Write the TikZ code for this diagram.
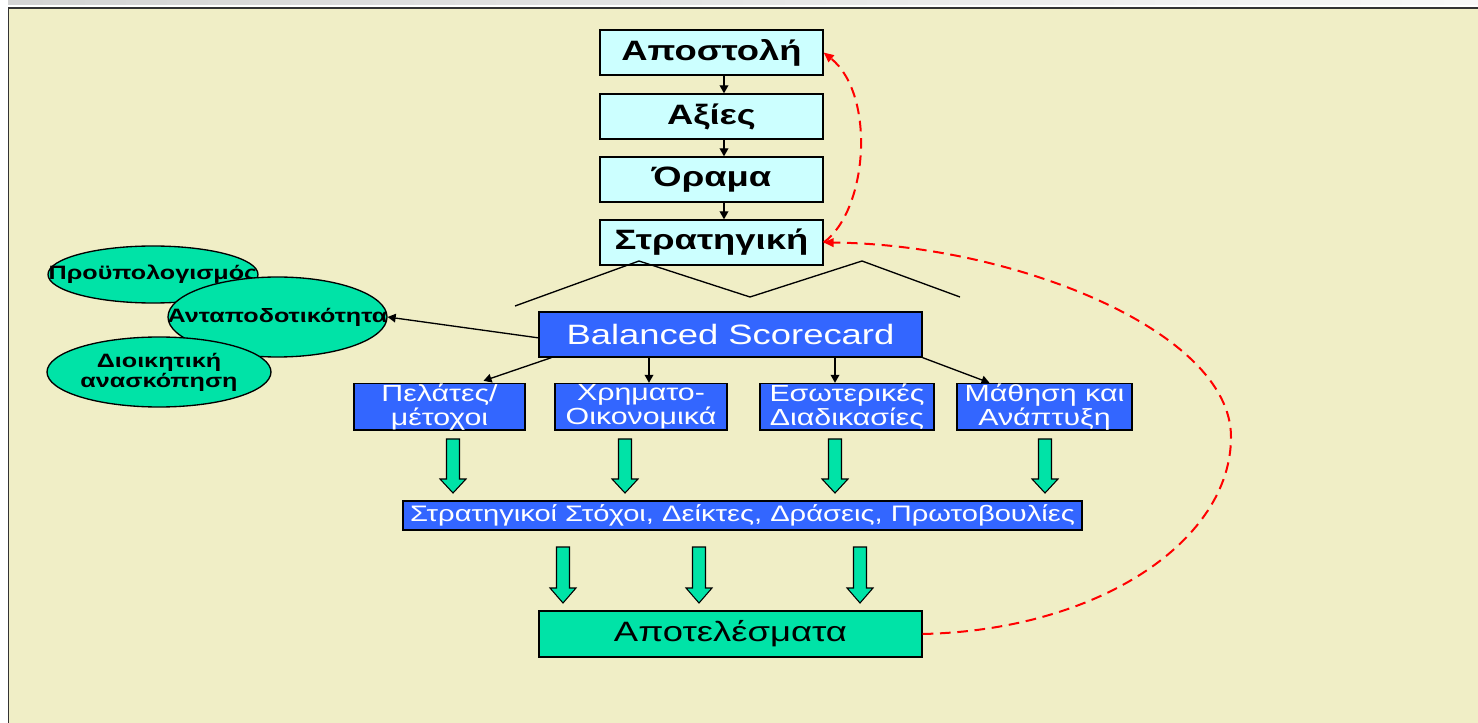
\documentclass[tikz,border=0pt]{standalone}
\usepackage{fontspec}
\setmainfont{Liberation Sans}[FakeStretch=1.3]
\usetikzlibrary{arrows.meta,shapes.geometric,calc}
\definecolor{cream}{HTML}{F0EEC6}
\definecolor{paleCyan}{HTML}{CCFFFF}
\definecolor{bscBlue}{HTML}{3366FF}
\definecolor{mint}{HTML}{00E3A7}
\definecolor{frameGray}{HTML}{333333}
\begin{document}
\begin{tikzpicture}[x=0.75pt,y=-0.75pt,
  stepbox/.style={draw=black,line width=1pt,fill=paleCyan,inner sep=0pt,
    minimum width=223*0.75pt,minimum height=45*0.75pt,
    font=\fontsize{21}{25}\selectfont\bfseries},
  bluebox/.style={draw=black,line width=1pt,fill=bscBlue,inner sep=0pt,text=white,align=center},
  persp/.style={bluebox,minimum height=46.5*0.75pt,font=\fontsize{17.5}{18}\selectfont},
  ovaltext/.style={inner sep=0pt,align=center,font=\fontsize{14.5}{15}\selectfont\bfseries},
  oval/.style={ellipse,draw=black,line width=1pt,fill=mint,inner sep=0pt,
    label={[ovaltext]center:#1}},
  link/.style={draw=black,line width=1pt,-{Triangle[length=6pt,width=6.5pt]}},
  feedback/.style={draw=red,line width=1.5pt,dash pattern=on 8pt off 5pt,
    -{Triangle[length=7.5pt,width=6.5pt]}},
  blockarrow/.style={draw=black,line width=0.8pt,fill=mint}]
\useasboundingbox (0,0) rectangle (1478,723);

% page frame
\fill[white] (0,0) rectangle (1478,723);
\shade[left color=black!17,right color=black!3] (8,0) rectangle (1478,4.5);
\fill[cream] (8,7.5) rectangle (1478,723);
\draw[frameGray,line width=1.4pt] (8.5,723) -- (8.5,7.8) -- (1478,7.8);

% mission / values / vision / strategy
\node[stepbox] (ap) at (711.5,52.5)  {Αποστολή};
\node[stepbox] (ax) at (711.5,116.5) {Αξίες};
\node[stepbox] (or) at (711.5,179.5) {Όραμα};
\node[stepbox] (st) at (711.5,242.5) {Στρατηγική};
\foreach \a/\b in {ap/ax,ax/or,or/st}
  \draw[link] ($(\a.south)+(12.5,0)$) -- ($(\b.north)+(12.5,0)$);

% zigzag under the strategy box
\draw[black,line width=1pt] (515,306) -- (639,261) -- (750,297) -- (862,261) -- (960,297);

% ellipses on the left
\node[oval={Προϋπολογισμός},minimum width=210*0.75pt,minimum height=57*0.75pt] (pr) at (153,274.5) {};
\node[oval={Ανταποδοτικότητα},minimum width=219*0.75pt,minimum height=80*0.75pt] (an) at (277.5,317) {};
\node[oval={Διοικητική\\ανασκόπηση},minimum width=224*0.75pt,minimum height=70*0.75pt] (di) at (159,372) {};

% balanced scorecard and its perspectives
\node[bluebox,minimum width=383*0.75pt,minimum height=45*0.75pt,
  font=\fontsize{21}{25}\selectfont] (bs) at (730.5,334.5) {Balanced Scorecard};
\node[persp,minimum width=171*0.75pt] (pe) at (439.5,406.75) {Πελάτες/\\μέτοχοι};
\node[persp,minimum width=172*0.75pt] (xr) at (641,406.75)   {Χρηματο-\\Οικονομικά};
\node[persp,minimum width=174*0.75pt] (es) at (847,406.75)   {Εσωτερικές\\Διαδικασίες};
\node[persp,minimum width=175*0.75pt] (ma) at (1044.5,406.75){Μάθηση και\\Ανάπτυξη};

\draw[link] (bs.181.3) -- (an.east);
\draw[link] ($(bs.south west)+(13,0)$) -- ($(pe.north)+(44,-2)$);
\coordinate (cx) at ($(xr.north)+(8,0)$);
\coordinate (ce) at ($(es.north)+(-12,0)$);
\draw[link] (cx |- bs.south) -- (cx);
\draw[link] (ce |- bs.south) -- (ce);
\draw[link] (bs.south east) -- ($(ma.north)+(-55,0)$);

% objectives bar and results
\node[bluebox,minimum width=679*0.75pt,minimum height=29*0.75pt,
  font=\fontsize{16.8}{18}\selectfont] (so) at (742.5,515.5)
  {Στρατηγικοί Στόχοι, Δείκτες, Δράσεις, Πρωτοβουλίες};
\node[draw=black,line width=1pt,fill=mint,inner sep=0pt,
  minimum width=383*0.75pt,minimum height=46*0.75pt,
  font=\fontsize{21}{25}\selectfont] (re) at (730.5,634) {Αποτελέσματα};

% block arrows
\foreach \x in {453,625,835,1045}
  \draw[blockarrow] (\x-6.5,439) -- (\x+6.5,439) -- (\x+6.5,479) -- (\x+13,479)
    -- (\x,493) -- (\x-13,479) -- (\x-6.5,479) -- cycle;
\foreach \x in {563,699,860}
  \draw[blockarrow] (\x-6.5,547) -- (\x+6.5,547) -- (\x+6.5,588) -- (\x+13,588)
    -- (\x,603) -- (\x-13,588) -- (\x-6.5,588) -- cycle;

% feedback loops
\draw[feedback] (st.east) .. controls (868,210) and (876,95) .. (ap.east);
\draw[feedback] (re.east) .. controls (1100,630) and (1231,540) .. (1231,437)
  .. controls (1231,330) and (1010,244) .. (st.east);
\end{tikzpicture}
\end{document}
